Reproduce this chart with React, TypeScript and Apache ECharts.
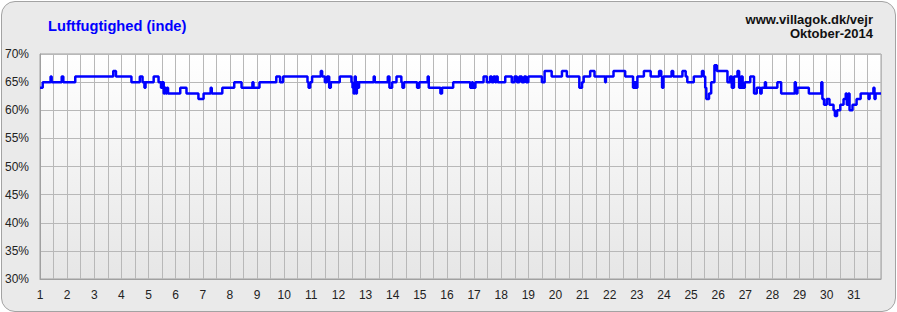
import React, { useEffect, useRef } from "react";
import * as echarts from "echarts";

const titleText = "Luftfugtighed (inde)";
const siteText = "www.villagok.dk/vejr";
const monthText = "Oktober-2014";

// day of month (fractional) at which each reading starts
const readingDays = [
  1.0, 1.1, 1.39, 1.43, 1.8, 1.86, 2.3, 3.7, 3.8, 4.37, 4.68, 4.78, 4.85, 4.89, 5.19, 5.37, 5.46, 5.5, 5.56, 5.6, 5.64, 5.68, 5.72, 6.17, 6.4, 6.84, 7.03, 7.29, 7.33, 7.72, 8.16, 8.43,
  8.83, 8.87, 9.09, 9.71, 9.85, 9.96, 10.86, 10.9, 10.96, 11.03, 11.35, 11.4, 11.5, 11.58, 11.66, 11.72, 12.05,
  12.48, 12.52, 12.56, 12.6, 12.64, 12.68, 12.72, 12.76, 13.3, 13.34, 13.82, 13.88, 13.98, 14.14, 14.32, 14.36, 14.42, 14.9, 14.98, 15.29, 15.33, 15.76, 15.82, 16.23,
  16.86, 16.92, 16.96, 17.05, 17.35, 17.47, 17.59, 17.65, 17.72, 17.78, 17.82, 17.87, 18.15, 18.39, 18.49, 18.58, 18.67, 18.76, 18.85, 18.92, 19.0, 19.5, 19.6, 19.86, 20.24, 20.42, 20.88, 20.98, 21.04, 21.28, 21.44, 21.83, 21.86, 22.14, 22.57,
  22.86, 22.92, 22.96, 23.02, 23.26, 23.51, 23.82, 23.9, 23.93, 23.98, 24.28, 24.34, 24.68, 24.8, 24.86, 25.1, 25.4, 25.46, 25.52, 25.56, 25.66, 25.74, 25.86, 25.95, 26.34, 26.44, 26.5, 26.58, 26.71, 26.77, 26.84, 26.9, 26.98, 27.18,
  27.32, 27.42, 27.55, 27.6, 27.72, 27.76, 28.18, 28.32, 28.82, 28.86, 28.92, 29.34, 29.8, 29.84, 29.9, 30.0, 30.1, 30.25, 30.3, 30.38, 30.5, 30.62, 30.7, 30.74, 30.8, 30.84, 30.95, 31.1, 31.25, 31.54, 31.58, 31.72, 31.76, 31.8, 32.0,
];

// indoor humidity (%) for each reading above
const humidity = [
  64, 65, 66, 65, 66, 65, 66, 67, 66, 65, 66, 65, 64, 65, 66, 65, 64, 65, 63, 64, 63, 64, 63, 64, 63, 62, 63, 64, 63, 64, 65, 64,
  65, 64, 65, 66, 65, 66, 65, 64, 65, 66, 67, 66, 65, 66, 64, 65, 66,
  65, 64, 63, 66, 63, 65, 64, 65, 66, 65, 66, 64, 65, 66, 65, 64, 65, 64, 65, 66, 64, 63, 64, 65,
  64, 65, 64, 65, 66, 65, 66, 65, 66, 65, 66, 65, 66, 65, 66, 65, 66, 65, 66, 65, 66, 65, 67, 66, 67, 66, 64, 65, 66, 67, 66, 65, 66, 67, 66,
  64, 65, 64, 66, 67, 66, 67, 66, 64, 66, 67, 66, 67, 66, 65, 66, 67, 66, 64, 62, 63, 65, 68, 67, 65, 66, 64, 66, 67, 64, 66, 64, 65, 66,
  63, 64, 63, 64, 65, 64, 65, 63, 65, 63, 64, 63, 65, 62, 61, 62, 61, 60, 59, 60, 61, 62, 63, 61, 63, 60, 61, 62, 63, 62, 63, 64, 62, 63, 63,
];

const yMin = 30;
const yMax = 70;
const yStep = 5;
const firstDay = 1;
const lastDay = 32;

const FONT = "'Liberation Sans', Arial, Helvetica, sans-serif";

export default function App() {
  const ref = useRef<HTMLDivElement>(null);

  useEffect(() => {
    document.body.style.margin = "0";
    if (!ref.current) return;
    const chart = echarts.init(ref.current, null, { renderer: "svg" });
    const data = readingDays.map((d, i) => [d, humidity[i]]);
    chart.setOption({
      animation: false,
      backgroundColor: "transparent",
      grid: {
        left: 40,
        right: 16,
        top: 54,
        bottom: 33,
        show: true,
        borderColor: "#a0a0a0",
        borderWidth: 1,
        backgroundColor: new echarts.graphic.LinearGradient(0, 0, 0, 1, [
          { offset: 0, color: "#ffffff" },
          { offset: 1, color: "#e6e6e6" },
        ]),
      },
      xAxis: {
        type: "value",
        min: firstDay,
        max: lastDay,
        interval: 0.5,
        axisLine: { show: true, lineStyle: { color: "#a0a0a0" } },
        axisTick: { show: false },
        splitLine: { show: true, lineStyle: { color: "#b8b8b8", width: 1 } },
        axisLabel: {
          margin: 10,
          color: "#222",
          fontSize: 12,
          fontFamily: FONT,
          formatter: (v: number) => (Number.isInteger(v) && v < lastDay ? String(v) : ""),
        },
      },
      yAxis: {
        type: "value",
        min: yMin,
        max: yMax,
        interval: yStep,
        axisLine: { show: true, lineStyle: { color: "#a0a0a0" } },
        axisTick: { show: false },
        splitLine: { show: true, lineStyle: { color: "#b8b8b8", width: 1 } },
        axisLabel: {
          margin: 11,
          color: "#222",
          fontSize: 12,
          fontFamily: FONT,
          formatter: "{value}%",
        },
      },
      graphic: [
        {
          type: "text",
          x: 48,
          y: 26,
          style: {
            text: titleText,
            fill: "#0000ff",
            font: `bold 14.67px ${FONT}`,
            textAlign: "left",
            textVerticalAlign: "middle",
          },
        },
        {
          type: "text",
          x: 873,
          y: 19,
          style: {
            text: siteText,
            fill: "#111",
            font: `bold 13px ${FONT}`,
            textAlign: "right",
            textVerticalAlign: "middle",
          },
        },
        {
          type: "text",
          x: 873,
          y: 33,
          style: {
            text: monthText,
            fill: "#111",
            font: `bold 13px ${FONT}`,
            textAlign: "right",
            textVerticalAlign: "middle",
          },
        },
      ],
      series: [
        {
          type: "line",
          step: "end",
          data,
          showSymbol: false,
          symbol: "none",
          lineStyle: { color: "#0000ff", width: 2.5 },
          itemStyle: { color: "#0000ff" },
        },
      ],
    });
    return () => chart.dispose();
  }, []);

  return (
    <div style={{ position: "relative", width: 897, height: 312 }}>
      <div
        style={{
          position: "absolute",
          left: 1,
          top: 1,
          width: 895,
          height: 311,
          boxSizing: "border-box",
          border: "1px solid #a3a3a3",
          borderRadius: 14,
          background: "#eaeaea",
        }}
      />
      <div ref={ref} style={{ position: "absolute", left: 0, top: 0, width: 897, height: 312 }} />
    </div>
  );
}
